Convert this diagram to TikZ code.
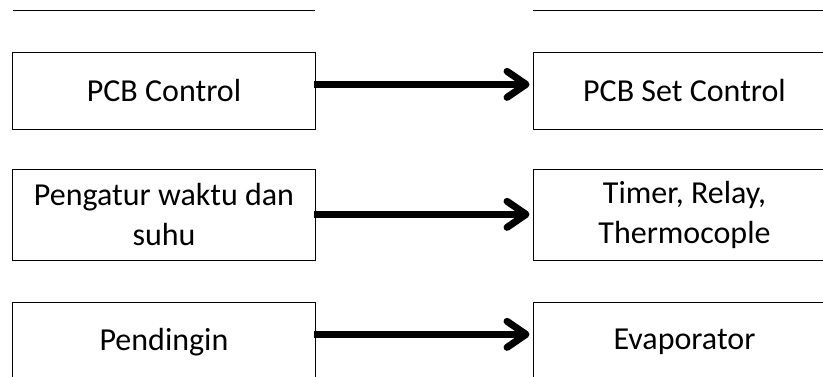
\documentclass[tikz,border=0pt]{standalone}
\usepackage{fontspec}
\setmainfont{Carlito}
\usetikzlibrary{arrows.meta}
\begin{document}
\begin{tikzpicture}[x=1pt,y=-1pt,
  box/.style={draw=black, line width=0.9pt, rectangle, inner sep=0pt,
    minimum width=302.6pt, align=center,
    font=\fontsize{32}{40}\selectfont},
  link/.style={line width=7pt,
    -{Straight Barb[length=19pt,width=26pt,line width=7pt,round]}},
  edge/.style={line width=0.9pt}]
  \clip (0,0) rectangle (823,376);
  \fill[white] (0,0) rectangle (823,376);

  % bottom edges of the boxes above
  \coordinate (tl1) at (12.7,10.7);
  \coordinate (tl2) at (315.3,10.7);
  \coordinate (tr1) at (533,10.7);
  \coordinate (tr2) at (840,10.7);
  \draw[edge] (tl1) -- (tl2);
  \draw[edge] (tr1) -- (tr2);

  % left column
  \node[box, minimum height=76.3pt] (a1) at (164,90.85) {PCB Control};
  \node[box, minimum height=90.7pt] (a2) at (164,214.65) {Pengatur waktu dan\\suhu};
  \node[box, minimum height=78.3pt] (a3) at (164,341.85) {Pendingin};

  % right column
  \node[box, minimum width=303pt, minimum height=76.3pt] (b1) at (684.5,90.85) {PCB Set Control};
  \node[box, minimum width=303pt, minimum height=90.7pt] (b2) at (684.5,214.65) {Timer, Relay,\\Thermocople};
  \node[box, minimum width=303pt, minimum height=78.3pt] (b3) at (684.5,341.85) {Evaporator};

  % connectors
  \draw[link] ([shift={(-2,-6.5)}]a1.east) -- ([shift={(-3,-6.5)}]b1.west);
  \draw[link] ([shift={(-2,-0.3)}]a2.east) -- ([shift={(-3,-0.3)}]b2.west);
  \draw[link] ([shift={(-2,-7.5)}]a3.east) -- ([shift={(-3,-7.5)}]b3.west);
\end{tikzpicture}
\end{document}
